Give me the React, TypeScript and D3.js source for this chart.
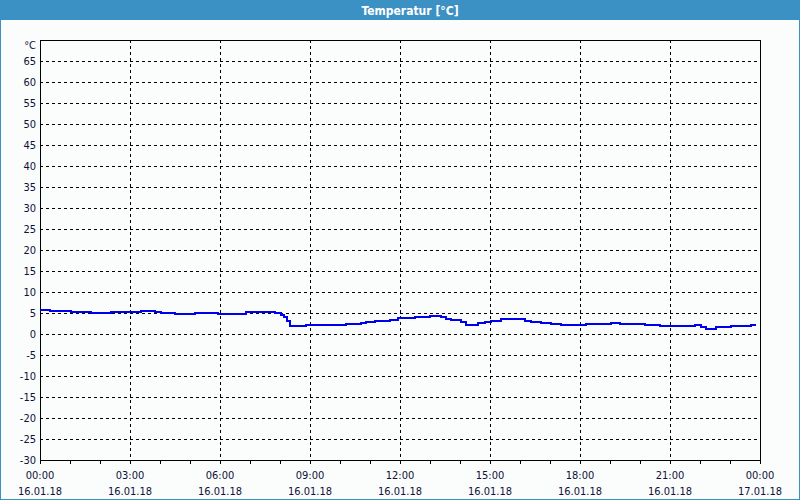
import React from "react";
import * as d3 from "d3";

const TITLE = "Temperatur [°C]";
const UNIT = "°C";
// hours since 16.01.18 00:00
const hours = [0.0, 0.33, 1.03, 1.37, 1.7, 2.37, 2.7, 3.37, 3.83, 4.03, 4.5, 5.17, 5.93, 6.67, 6.87, 7.03, 7.17, 7.83, 8.03, 8.13, 8.23, 8.33, 8.87, 10.2, 10.7, 10.87, 11.17, 11.67, 11.93, 12.5, 13.0, 13.37, 13.53, 13.7, 14.03, 14.2, 14.6, 14.83, 15.03, 15.37, 16.17, 16.37, 16.7, 17.03, 17.37, 18.2, 19.03, 19.33, 20.17, 20.67, 21.83, 22.03, 22.2, 22.53, 23.03, 23.7, 23.87];
const temps = [5.8, 5.55, 5.3, 5.15, 4.9, 5.15, 5.35, 5.55, 5.3, 4.95, 4.7, 4.9, 4.7, 4.85, 5.15, 5.35, 5.15, 4.95, 4.6, 4.0, 3.0, 1.86, 2.1, 2.3, 2.6, 2.9, 3.2, 3.45, 3.7, 4.0, 4.4, 4.0, 3.6, 3.3, 2.8, 2.25, 2.55, 2.8, 3.1, 3.5, 3.2, 2.8, 2.55, 2.3, 2.1, 2.35, 2.55, 2.35, 2.1, 1.85, 2.15, 1.6, 1.3, 1.55, 1.85, 2.15, 2.15];
const yTicks = [-30, -25, -20, -15, -10, -5, 0, 5, 10, 15, 20, 25, 30, 35, 40, 45, 50, 55, 60, 65];
const xTimeLabels = ["00:00", "03:00", "06:00", "09:00", "12:00", "15:00", "18:00", "21:00", "00:00"];
const xDateLabels = ["16.01.18", "16.01.18", "16.01.18", "16.01.18", "16.01.18", "16.01.18", "16.01.18", "16.01.18", "17.01.18"];

const W = 800, H = 500;
const FONT = "Tahoma, 'DejaVu Sans Condensed', 'DejaVu Sans', sans-serif";

export default function App() {
  const x = d3.scaleLinear().domain([0, 24]).range([40, 760]);
  const y = d3.scaleLinear().domain([-30, 70]).range([460, 40]);
  const data = hours.map((h, i) => [h, temps[i]] as [number, number]);
  const line = d3.line<[number, number]>().x(d => x(d[0])).y(d => Math.round(y(d[1]))).curve(d3.curveStepAfter);
  const major = d3.range(0, 25, 3);
  const minor = d3.range(0, 25, 1);
  const px = (v: number) => Math.round(v) + 0.5;
  const txt = "#10103a";
  return (
    <svg width={W} height={H} style={{ position: "fixed", left: 0, top: 0 }} fontFamily={FONT}>
      <rect x={0} y={0} width={W} height={H} fill="#fbfdfc" />
      <rect x={0.5} y={0.5} width={W - 1} height={H - 1} fill="none" stroke="#3c91c4" />
      <rect x={0} y={0} width={W} height={20} fill="#3c91c4" />
      <text x={410} y={14.5} fill="#ffffff" fontSize={12} fontWeight="bold" textAnchor="middle" style={{ fontStretch: "condensed" }}>{TITLE}</text>
      {yTicks.filter(t => t > -30).map(t => (
        <line key={"hg" + t} x1={40} x2={760} y1={px(y(t))} y2={px(y(t))} stroke="#000" strokeDasharray="3,3" />
      ))}
      {major.filter(m => m > 0 && m < 24).map(m => (
        <line key={"vg" + m} x1={px(x(m))} x2={px(x(m))} y1={40} y2={460} stroke="#000" strokeDasharray="3,3" />
      ))}
      {minor.map(m => (
        <line key={"mt" + m} x1={px(x(m))} x2={px(x(m))} y1={460} y2={464} stroke="#000" />
      ))}
      <rect x={40.5} y={40.5} width={720} height={420} fill="none" stroke="#000" />
      {yTicks.map(t => (
        <text key={"yl" + t} x={36} y={y(t) + 4} fontSize={11} fill={txt} textAnchor="end">{t}</text>
      ))}
      <text x={36} y={y(70) + 9} fontSize={11} fill={txt} textAnchor="end">{UNIT}</text>
      {major.map((m, i) => (
        <g key={"xl" + m}>
          <text x={x(m)} y={479} fontSize={11} fill={txt} textAnchor="middle">{xTimeLabels[i]}</text>
          <text x={x(m)} y={495} fontSize={11} fill={txt} textAnchor="middle">{xDateLabels[i]}</text>
        </g>
      ))}
      <path d={line(data) || ""} fill="none" stroke="#0000f0" strokeWidth={2} shapeRendering="crispEdges" />
    </svg>
  );
}
